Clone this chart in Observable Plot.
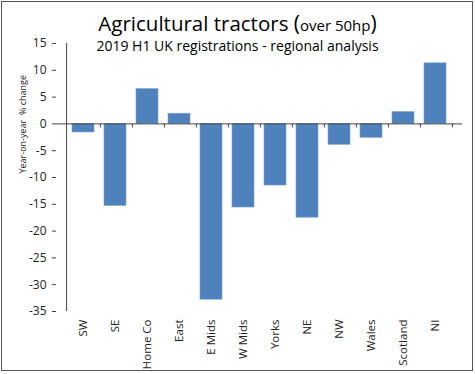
<!DOCTYPE html>
<html>
<head>
<meta charset="utf-8">
<script src="https://cdn.jsdelivr.net/npm/d3@7"></script>
<script src="https://cdn.jsdelivr.net/npm/@observablehq/plot@0.6"></script>
<style>
  html, body { margin: 0; padding: 0; background: #fff; }
  #wrap { position: relative; width: 475px; height: 374px; overflow: hidden; font-family: "Open Sans", "Noto Sans", sans-serif; }
  #border { position: absolute; left: 1px; top: 1px; width: 470px; height: 368px; border: 1px solid #555; pointer-events: none; }
  #title { position: absolute; left: 0; width: 475px; top: 10px; text-align: center; font-size: 20.5px; color: #000; line-height: 26px; }
  #title .small { font-size: 15px; }
  #title .paren { font-size: 21px; }
  #subtitle { position: absolute; left: 0; width: 475px; top: 36px; text-align: center; font-size: 14px; color: #000; line-height: 20px; }
  #chart { position: absolute; left: 0; top: 0; }
</style>
</head>
<body>
<div id="wrap">
  <div id="chart"></div>
  <div id="title">Agricultural tractors <span class="paren">(</span><span class="small">over 50hp</span><span class="paren">)</span></div>
  <div id="subtitle">2019 H1 UK registrations - regional analysis</div>
  <div id="border"></div>
</div>
<script>
const regions = ["SW", "SE", "Home Co", "East", "E Mids", "W Mids", "Yorks", "NE", "NW", "Wales", "Scotland", "NI"];
const changes = [-1.6, -15.3, 6.5, 1.9, -32.8, -15.6, -11.5, -17.5, -3.9, -2.6, 2.2, 11.3];
const yTicks = [15, 10, 5, 0, -5, -10, -15, -20, -25, -30, -35];
const yLabel = "Year-on-year  % change";

const data = regions.map((r, i) => ({region: r, change: changes[i]}));

const W = 475, H = 374;
const mL = 56, mR = 13, mT = 43, mB = 63;
const step = (W - mL - mR) / regions.length;

const chart = Plot.plot({
  width: W,
  height: H,
  marginLeft: mL,
  marginRight: mR,
  marginTop: mT,
  marginBottom: mB,
  style: {fontFamily: "'Open Sans', 'Noto Sans', sans-serif", background: "transparent", color: "#333"},
  x: {domain: regions, padding: 0.32, label: null},
  y: {domain: [-35, 15], label: null},
  marks: [
    Plot.barY(data, {x: "region", y: "change", fill: "#4f81bd", stroke: "#7aa0d0", strokeWidth: 0.6}),
    Plot.ruleY([0], {stroke: "#444", strokeWidth: 1}),
    Plot.ruleX(regions, {x: d => d, dx: step / 2, y1: 0, y2: -0.75, stroke: "#444"}),
    Plot.ruleX(regions.slice(0, 1), {x: d => d, dx: -step / 2, y1: -35, y2: 15, stroke: "#444"}),
    Plot.axisY({ticks: yTicks, tickSize: 4, tickPadding: 6, fontSize: 12, stroke: "#444", fill: "#222", tickFormat: d => String(d), label: null}),
    Plot.axisX({tickSize: 0, tickRotate: -90, tickPadding: 8, fontSize: 11.5, fill: "#222", label: null}),
    Plot.text([yLabel], {frameAnchor: "left", dx: -33, dy: -4, rotate: -90, fontSize: 9, fill: "#222"})
  ]
});
document.getElementById("chart").appendChild(chart);
</script>
</body>
</html>
